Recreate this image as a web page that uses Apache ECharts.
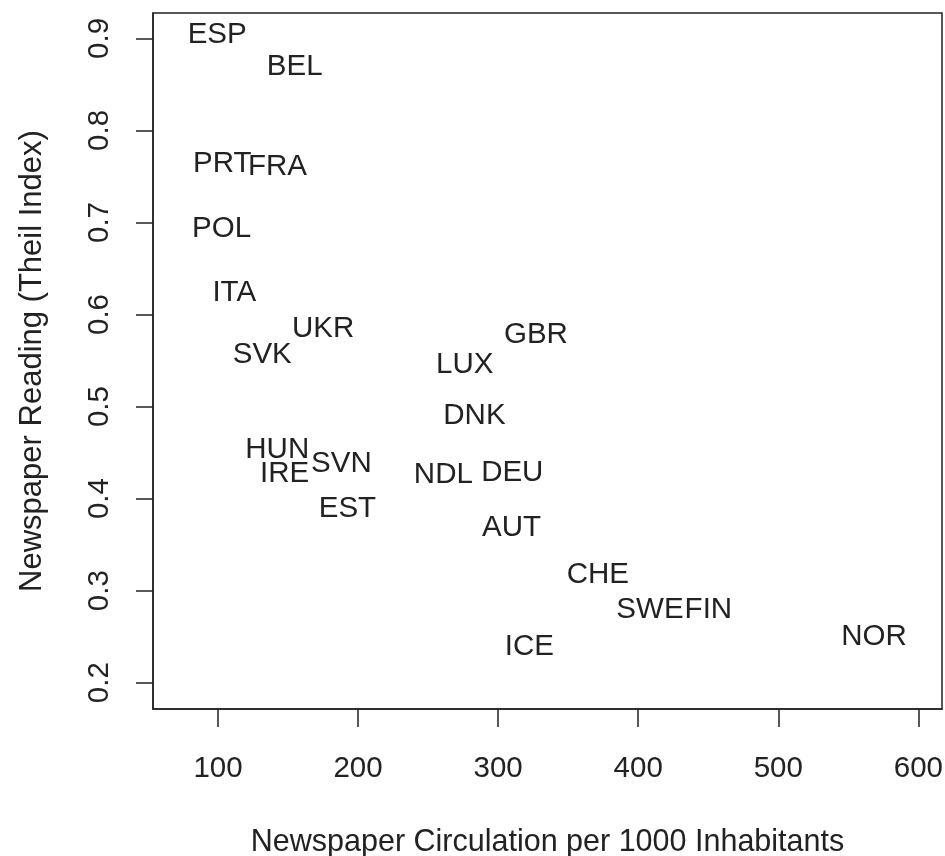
<!DOCTYPE html>
<html>
<head>
<meta charset="utf-8">
<script src="https://cdn.jsdelivr.net/npm/echarts@6/dist/echarts.min.js"></script>
<style>
html,body{margin:0;padding:0;background:#fff;}
#chart{width:945px;height:856px;}
</style>
</head>
<body>
<div id="chart"></div>
<script>
const countries = ["ESP","BEL","PRT","FRA","POL","ITA","UKR","SVK","HUN","IRE","SVN","EST","GBR","LUX","DNK","NDL","DEU","AUT","CHE","SWE","FIN","ICE","NOR"];
const circulation = [99.4,154.8,103.0,142.5,102.6,111.6,175.1,131.6,142.3,147.6,188.1,192.4,327.0,276.2,283.1,260.9,310.1,309.6,371.2,408.4,450.1,322.3,568.4];
const reading = [0.904,0.869,0.764,0.760,0.693,0.624,0.584,0.556,0.453,0.427,0.438,0.389,0.578,0.545,0.490,0.426,0.428,0.368,0.317,0.279,0.279,0.239,0.250];
const xTicks = [100,200,300,400,500,600];
const yTicks = [0.2,0.3,0.4,0.5,0.6,0.7,0.8,0.9];
const xTitle = "Newspaper Circulation per 1000 Inhabitants";
const yTitle = "Newspaper Reading (Theil Index)";

const FONT = "Liberation Sans, Arial, Helvetica, sans-serif";
const INK = "#222222";
const points = countries.map((c,i)=>({name:c, value:[circulation[i], reading[i]]}));

const chart = echarts.init(document.getElementById('chart'), null, {renderer:'canvas'});
chart.setOption({
  animation:false,
  backgroundColor:'#ffffff',
  grid:{left:153, right:3, top:13, bottom:147, containLabel:false, outerBoundsMode:'none',
        show:true, borderColor:INK, borderWidth:1.5, backgroundColor:'transparent'},
  xAxis:{
    type:'value', min:53.6, max:616.9,
    name:xTitle, nameLocation:'middle', nameGap:118,
    nameTextStyle:{fontFamily:FONT, fontSize:30.5, color:INK},
    axisLine:{show:true, lineStyle:{color:INK, width:1.5}},
    axisTick:{show:true, length:18, inside:false, customValues:xTicks, lineStyle:{color:INK, width:1.5}},
    axisLabel:{show:true, margin:45, customValues:xTicks, fontFamily:FONT, fontSize:29.5, color:INK},
    splitLine:{show:false}
  },
  yAxis:{
    type:'value', min:0.1714, max:0.9276,
    name:yTitle, nameLocation:'middle', nameGap:105,
    nameTextStyle:{fontFamily:FONT, fontSize:31, color:INK},
    axisLine:{show:true, lineStyle:{color:INK, width:1.5}},
    axisTick:{show:true, length:17, inside:false, customValues:yTicks, lineStyle:{color:INK, width:1.5}},
    axisLabel:{show:true, margin:38, rotate:90, customValues:yTicks, fontFamily:FONT, fontSize:29.5, color:INK,
      formatter:(v)=>Number(v).toFixed(1)},
    splitLine:{show:false}
  },
  series:[{
    type:'scatter',
    data:points,
    symbol:'circle',
    symbolSize:0,
    itemStyle:{color:'rgba(0,0,0,0)', opacity:1},
    label:{show:true, position:'inside', align:'center', verticalAlign:'middle', opacity:1, offset:[0,2],
      formatter:(p)=>p.name, fontFamily:FONT, fontSize:29.5, color:INK, textBorderWidth:0},
    emphasis:{disabled:true},
    labelLayout:{hideOverlap:false}
  }]
});
</script>
</body>
</html>
